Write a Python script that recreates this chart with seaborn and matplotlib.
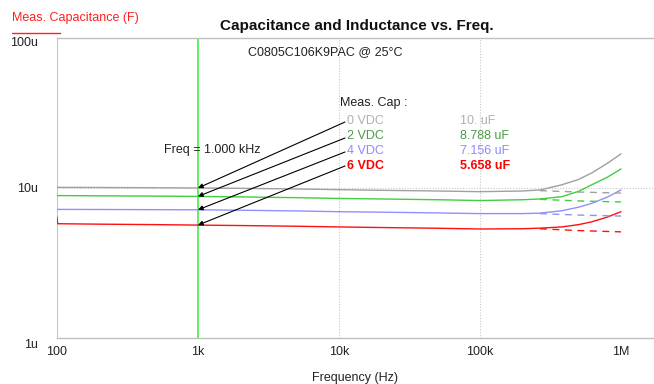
import numpy as np
import pandas as pd
import matplotlib
matplotlib.use("Agg")
import matplotlib.pyplot as plt
import seaborn as sns

# ---- data ----
freq = [100, 101, 200, 500, 1e3, 2e3, 5e3, 1e4, 2e4, 5e4, 1e5, 2e5, 2.66e5, 3.8e5, 5e5, 6.2e5, 8e5, 1e6]
cap_0v = [10.1, 10.1, 10.08, 10.04, 10.0, 9.95, 9.85, 9.75, 9.65, 9.55, 9.45, 9.55, 9.7, 10.5, 11.4, 12.6, 14.6, 16.9]
cap_2v = [8.9, 8.9, 8.87, 8.83, 8.788, 8.72, 8.62, 8.52, 8.45, 8.35, 8.25, 8.35, 8.45, 8.75, 9.5, 10.5, 11.8, 13.4]
cap_4v = [7.2, 7.2, 7.19, 7.17, 7.156, 7.11, 7.03, 6.95, 6.9, 6.82, 6.75, 6.75, 6.8, 7.05, 7.45, 7.9, 8.7, 9.7]
cap_6v = [6.4, 5.78, 5.74, 5.7, 5.658, 5.62, 5.56, 5.5, 5.45, 5.39, 5.33, 5.35, 5.4, 5.5, 5.7, 5.95, 6.4, 6.95]

freq_flat = [2.66e5, 5e5, 1e6]
flat_0v = [9.6, 9.4, 9.25]
flat_2v = [8.4, 8.2, 8.07]
flat_4v = [6.75, 6.6, 6.5]
flat_6v = [5.35, 5.2, 5.1]

series = ["0 VDC", "2 VDC", "4 VDC", "6 VDC"]
values_at_1k = ["10. uF", "8.788 uF", "7.156 uF", "5.658 uF"]
line_colors = ["#a0a0a0", "#3fcf3f", "#9090ff", "#ff1010"]
text_colors = ["#b0b0b0", "#4a9a4a", "#8a8aff", "#ff0000"]

solid = pd.concat([
    pd.DataFrame({"freq": freq, "cap": np.array(v) * 1e-6, "bias": s})
    for s, v in zip(series, [cap_0v, cap_2v, cap_4v, cap_6v])
])
flat = pd.concat([
    pd.DataFrame({"freq": freq_flat, "cap": np.array(v) * 1e-6, "bias": s})
    for s, v in zip(series, [flat_0v, flat_2v, flat_4v, flat_6v])
])
palette = dict(zip(series, line_colors))

sns.set_style("white")
plt.rcParams["font.family"] = ["Liberation Sans", "DejaVu Sans"]

fig = plt.figure(figsize=(6.54, 3.84), dpi=100)
ax = fig.add_axes([57 / 654, 46 / 384, 597 / 654, 300 / 384])
ax.set_xscale("log")
ax.set_yscale("log")

sns.lineplot(data=solid, x="freq", y="cap", hue="bias", palette=palette,
             ax=ax, legend=False, linewidth=1.0, sort=True)
sns.lineplot(data=flat, x="freq", y="cap", hue="bias", palette=palette,
             ax=ax, legend=False, linewidth=1.0, linestyle=(0, (5, 4)))

ax.set_xlim(100, 10 ** (2 + 597 / 141))
ax.set_ylim(1e-6, 1e-4)

# grid
for gx in [1e4, 1e5]:
    ax.axvline(gx, color="#c8c8c8", lw=0.8, ls=(0, (1, 1.5)), zorder=0)
ax.axhline(1e-5, color="#c8c8c8", lw=0.8, ls=(0, (1, 1.5)), zorder=0)
# cursor
ax.axvline(1e3, color="#44ee44", lw=1.2, zorder=1)

# spines
ax.spines["right"].set_visible(False)
for side in ["top", "bottom"]:
    ax.spines[side].set_color("#c0c0c0")
    ax.spines[side].set_linewidth(1.0)
ax.spines["left"].set_color("#c8c8c8")
ax.spines["left"].set_linestyle((0, (1, 1)))
ax.spines["left"].set_linewidth(0.8)
ax.spines["left"].set_zorder(0)

ax.set_xticks([1e2, 1e3, 1e4, 1e5, 1e6])
ax.set_xticklabels(["100", "1k", "10k", "100k", "1M"])
ax.set_yticks([1e-6, 1e-5, 1e-4])
ax.set_yticklabels(["1u", "10u", "100u"])
ax.tick_params(axis="both", which="major", length=0, labelsize=9, colors="#222222")
ax.tick_params(axis="x", pad=6)
ax.tick_params(axis="y", pad=14)
for lbl, dy in zip(ax.get_yticklabels(), [-6, 0, -3]):
    lbl.set_transform(lbl.get_transform() + matplotlib.transforms.ScaledTranslation(0, dy / 100, fig.dpi_scale_trans))
ax.xaxis.set_minor_locator(matplotlib.ticker.LogLocator(base=10, subs=np.arange(2, 10)))
ax.yaxis.set_minor_locator(matplotlib.ticker.NullLocator())
ax.tick_params(axis="x", which="minor", direction="in", length=2, color="#c8e8c8")
ax.set_xlabel("Frequency (Hz)", fontsize=9, color="#222222", labelpad=10)
ax.set_ylabel("")

# titles
fig.text(357 / 654, 1 - 26 / 384, "Capacitance and Inductance vs. Freq.",
         ha="center", va="center", fontsize=11, fontweight="bold", color="#111111")
fig.text(12 / 654, 1 - 18 / 384, "Meas. Capacitance (F)", ha="left", va="center",
         fontsize=9, color="#ff2020")
fig.add_artist(plt.Line2D([12 / 654, 60 / 654], [1 - 33 / 384, 1 - 33 / 384],
                          color="#ff2020", lw=1.0))
fig.text(325 / 654, 1 - 52 / 384, "C0805C106K9PAC @ 25°C", ha="center", va="center",
         fontsize=9, color="#222222")

fig.text(340 / 654, 1 - 103 / 384, "Meas. Cap :", ha="left", va="center",
         fontsize=9, color="#222222")
fig.text(164 / 654, 1 - 150 / 384, "Freq = 1.000 kHz", ha="left", va="center",
         fontsize=9, color="#222222")

ys = [121, 136, 151, 166]
starts = [122, 138, 152, 166]
for i, s in enumerate(series):
    w = "bold" if i == 3 else "normal"
    fig.text(347 / 654, 1 - ys[i] / 384, s, ha="left", va="center", fontsize=9,
             color=text_colors[i], fontweight=w)
    fig.text(460 / 654, 1 - ys[i] / 384, values_at_1k[i], ha="left", va="center",
             fontsize=9, color=text_colors[i], fontweight=w)
    yv = solid[(solid["bias"] == s) & (solid["freq"] == 1e3)]["cap"].iloc[0]
    ax.annotate("", xy=(1e3, yv), xycoords="data",
                xytext=(345, 384 - starts[i]), textcoords="figure pixels",
                arrowprops=dict(arrowstyle="-|>", color="black", lw=0.8,
                                shrinkA=0, shrinkB=0, mutation_scale=7))

fig.savefig("out.png", dpi=100)
